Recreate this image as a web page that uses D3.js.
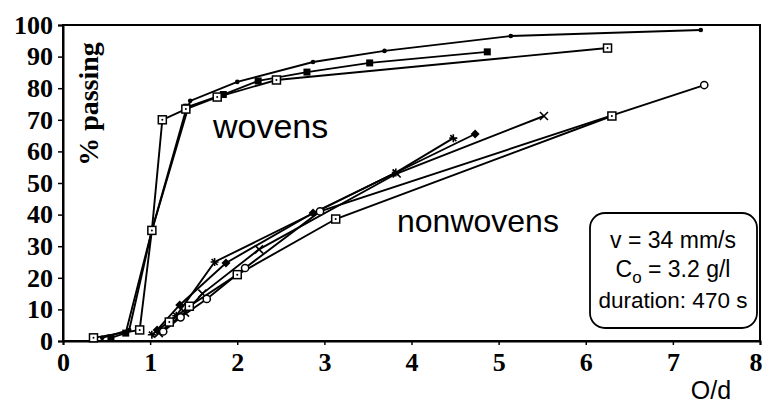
<!DOCTYPE html>
<html><head><meta charset="utf-8">
<script src="https://cdn.jsdelivr.net/npm/d3@7"></script>
<style>
html,body{margin:0;padding:0;background:#fff;}
svg{display:block;}
</style></head>
<body>
<svg id="chart" width="763" height="403"></svg>
<script>
// ---- data ----
const xTicks = [0,1,2,3,4,5,6,7,8];
const yTicks = [0,10,20,30,40,50,60,70,80,90,100];

// wovens
const wovenDots    = [[0.45,1],[0.76,3.5],[1.02,35],[1.46,76],[2.0,82],[2.87,88.3],[3.69,91.8],[5.14,96.5],[7.32,98.4]];
const wovenSquares = [[0.55,1],[0.72,2.5],[1.02,35],[1.42,74],[1.84,78],[2.24,82.3],[2.80,85.1],[3.52,88],[4.87,91.5]];
const wovenOpenSq  = [[0.35,1],[0.88,3.5],[1.02,35],[1.14,70],[1.41,73.4],[1.77,77.2],[2.45,82.6],[6.25,92.7]];

// nonwovens
const nonwovenDiamond = [[1.08,3.5],[1.34,11.4],[1.87,24.7],[2.87,40.5],[4.73,65.5]];
const nonwovenPlus    = [[1.02,2],[1.3,8],[1.74,25],[3.82,53.3],[4.48,64.2]];
const nonwovenCross   = [[1.1,2.5],[1.4,9],[1.6,15],[2.25,29],[3.83,53],[5.52,71.2]];
const nonwovenCircle  = [[1.15,3],[1.35,7.5],[1.65,13.3],[2.09,23.1],[2.95,41],[7.36,81]];
const nonwovenOpenSq  = [[1.22,6],[1.45,11],[2.0,21],[3.13,38.6],[6.3,71.2]];

const series = [
  {pts: wovenDots, marker: "dot"},
  {pts: wovenSquares, marker: "square"},
  {pts: wovenOpenSq, marker: "opensq"},
  {pts: nonwovenDiamond, marker: "diamond"},
  {pts: nonwovenPlus, marker: "plus"},
  {pts: nonwovenCross, marker: "cross"},
  {pts: nonwovenCircle, marker: "circle"},
  {pts: nonwovenOpenSq, marker: "opensq"}
];

// ---- layout ----
const svg = d3.select("#chart");
const x = d3.scaleLinear().domain([0,8]).range([63,760]);
const y = d3.scaleLinear().domain([0,100]).range([341,25]);

const serif = "'Liberation Serif','Times New Roman',serif";
const sans = "'Liberation Sans',Arial,sans-serif";

// frame
svg.append("rect").attr("x",x(0)).attr("y",y(100)).attr("width",x(8)-x(0)).attr("height",y(0)-y(100))
  .attr("fill","none").attr("stroke","#000").attr("stroke-width",2);

// axes
const yAxis = svg.append("g").attr("transform",`translate(${x(0)},0)`)
  .call(d3.axisLeft(y).tickValues(yTicks).tickSize(5).tickPadding(5));
const xAxis = svg.append("g").attr("transform",`translate(0,${y(0)})`)
  .call(d3.axisBottom(x).tickValues(xTicks).tickSize(4).tickPadding(7));
[yAxis,xAxis].forEach(g=>{
  g.select(".domain").attr("stroke","#000").attr("stroke-width",2);
  g.selectAll(".tick line").attr("stroke","#000").attr("stroke-width",1.5);
  g.selectAll(".tick text").attr("fill","#000").attr("font-family",serif)
    .attr("font-weight","bold").attr("font-size",26);
});
xAxis.selectAll(".tick text").attr("dy","0.72em");
xAxis.selectAll(".tick").filter(d=>d===8).select("text").attr("text-anchor","end").attr("dx",2);

// axis titles
svg.append("text").attr("transform",`translate(98,104) rotate(-90)`)
  .attr("text-anchor","middle").attr("font-family",serif).attr("font-weight","bold")
  .attr("font-size",28).text("% passing");
svg.append("text").attr("x",711).attr("y",399).attr("text-anchor","middle")
  .attr("font-family",sans).attr("font-size",25).text("O/d");

// lines
const line = d3.line().x(d=>x(d[0])).y(d=>y(d[1]));
svg.append("g").selectAll("path").data(series).join("path")
  .attr("d",d=>line(d.pts)).attr("fill","none").attr("stroke","#000").attr("stroke-width",1.9);

// markers
const mg = svg.append("g");
series.forEach(s=>{
  s.pts.forEach(p=>{
    const cx = x(p[0]), cy = y(p[1]);
    const g = mg.append("g").attr("transform",`translate(${cx},${cy})`);
    switch(s.marker){
      case "dot": g.append("circle").attr("r",2.3).attr("fill","#000"); break;
      case "square": g.append("rect").attr("x",-3.5).attr("y",-3.5).attr("width",7).attr("height",7).attr("fill","#000"); break;
      case "opensq":
        g.append("rect").attr("x",-4).attr("y",-4).attr("width",8).attr("height",8).attr("fill","#fff").attr("stroke","#000").attr("stroke-width",1.5);
        g.append("circle").attr("r",1).attr("fill","#000"); break;
      case "diamond": g.append("path").attr("d","M0,-4.5L4.5,0L0,4.5L-4.5,0Z").attr("fill","#000"); break;
      case "plus": g.append("path").attr("d","M-4,0H4M0,-4V4M-3,-3L3,3").attr("stroke","#000").attr("stroke-width",1.6); break;
      case "cross": g.append("path").attr("d","M-4,-4L4,4M4,-4L-4,4").attr("stroke","#000").attr("stroke-width",1.6); break;
      case "circle": g.append("circle").attr("r",3.6).attr("fill","#fff").attr("stroke","#000").attr("stroke-width",1.5); break;
    }
  });
});

// group labels
svg.append("text").attr("x",213).attr("y",138).attr("font-family",sans).attr("font-size",34).text("wovens");
svg.append("text").attr("x",397).attr("y",232).attr("font-family",sans).attr("font-size",32).text("nonwovens");

// parameter box
svg.append("rect").attr("x",590).attr("y",213).attr("width",167).attr("height",115).attr("rx",15)
  .attr("fill","#fff").attr("stroke","#000").attr("stroke-width",1.8);
const bx = 673;
const fs = 23;
svg.append("text").attr("x",bx).attr("y",248).attr("text-anchor","middle").attr("font-family",sans).attr("font-size",fs).text("v = 34 mm/s");
const t2 = svg.append("text").attr("x",bx).attr("y",277).attr("text-anchor","middle").attr("font-family",sans).attr("font-size",fs);
t2.append("tspan").text("C");
t2.append("tspan").attr("font-size",17).attr("dy",6).text("o");
t2.append("tspan").attr("dy",-6).text(" = 3.2 g/l");
svg.append("text").attr("x",bx).attr("y",308).attr("text-anchor","middle").attr("font-family",sans).attr("font-size",22.5).text("duration: 470 s");
</script>
</body></html>
